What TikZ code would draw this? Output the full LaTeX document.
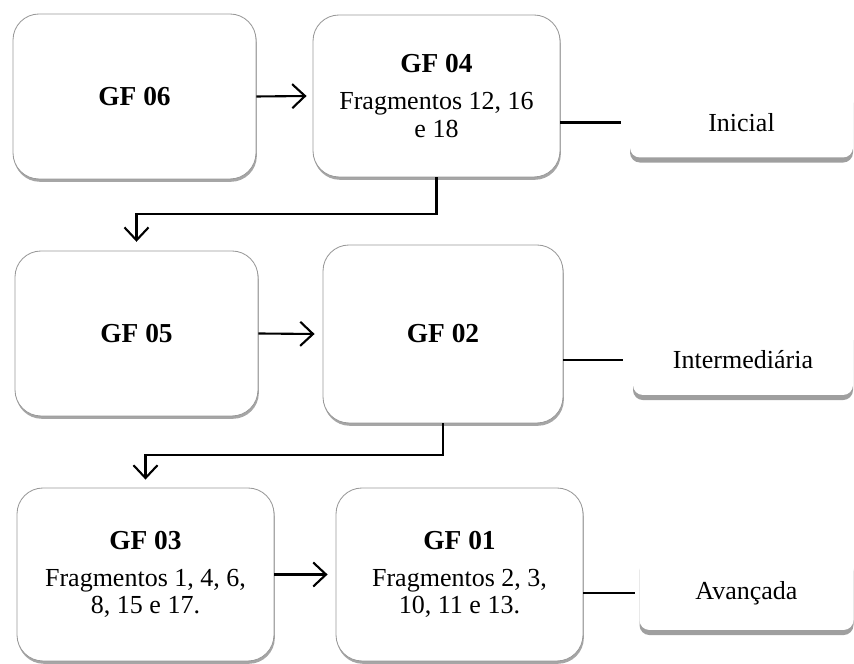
\documentclass[tikz,border=0pt]{standalone}
\usepackage{fontspec}
\setmainfont{Liberation Serif}
\usetikzlibrary{arrows.meta,shadows}

\begin{document}
\begin{tikzpicture}[
  gfbox/.style={draw=gray!80,fill=white,rounded corners=0.65cm,line width=0.6pt,
    align=center,inner sep=0pt,font=\fontsize{18.5}{19.5}\selectfont,
    drop shadow={shadow xshift=0.6pt,shadow yshift=-2pt,opacity=0.35,fill=black}},
  lvlbox/.style={fill=white,rounded corners=0.25cm,inner sep=0pt,
    font=\fontsize{18.5}{19.5}\selectfont,
    drop shadow={shadow xshift=0pt,shadow yshift=-3.6pt,opacity=1,fill=gray!75}},
  arr/.style={line width=1.5pt,-{Straight Barb[length=0.32cm,width=0.6cm,line width=1.5pt]}},
  lnk/.style={line width=1.5pt}]
  \useasboundingbox (0,0) rectangle (21.35,16.6);
  \newcommand{\gfhead}[1]{{\fontsize{19.5}{19.5}\selectfont\bfseries #1}}
  % grupos
  \node[gfbox,minimum width=6.075cm,minimum height=4.125cm] (gf06) at (3.3625,14.1875) {\gfhead{GF 06}};
  \node[gfbox,minimum width=6.175cm,minimum height=4.05cm] (gf04) at (10.9125,14.2)
    {\gfhead{GF 04}\\[7pt] Fragmentos 12, 16\\ e 18};
  \node[gfbox,minimum width=6.075cm,minimum height=4.125cm] (gf05) at (3.4125,8.2625) {\gfhead{GF 05}};
  \node[gfbox,minimum width=6.0cm,minimum height=4.45cm] (gf02) at (11.075,8.25) {\gfhead{GF 02}};
  \node[gfbox,minimum width=6.425cm,minimum height=4.325cm] (gf03) at (3.6375,2.2375)
    {\gfhead{GF 03}\\[7pt] Fragmentos 1, 4, 6,\\ 8, 15 e 17.};
  \node[gfbox,minimum width=6.175cm,minimum height=4.325cm] (gf01) at (11.4875,2.2375)
    {\gfhead{GF 01}\\[7pt] Fragmentos 2, 3,\\ 10, 11 e 13.};
  % niveis
  \node[lvlbox,minimum width=5.575cm,minimum height=1.75cm] (ini) at (18.5375,13.5375) {Inicial};
  \node[lvlbox,minimum width=5.5cm,minimum height=1.75cm] (inter) at (18.575,7.6) {Intermediária};
  \node[lvlbox,minimum width=5.35cm,minimum height=1.85cm] (avan) at (18.6625,1.775) {Avançada};
  % setas
  \draw[arr] (gf06.east) -- ([xshift=-0.15cm]gf04.west);
  \draw[arr] (gf05.east) -- ([xshift=-0.2cm]gf02.west);
  \draw[arr] (gf03.east) -- ([xshift=-0.2cm]gf01.west);
  \draw[arr] (gf04.south) -- ++(0,-0.925) -| ([yshift=0.22cm]gf05.north);
  \draw[arr] (gf02.south) -- ++(0,-0.8) -| ([yshift=0.2cm]gf03.north);
  \draw[lnk] (ini.west -| gf04.east) -- ([xshift=-0.22cm]ini.west);
  \draw[lnk] (inter.west -| gf02.east) -- ([xshift=-0.25cm]inter.west);
  \draw[lnk] (avan.west -| gf01.east) -- ([xshift=-0.1cm]avan.west);
\end{tikzpicture}
\end{document}
